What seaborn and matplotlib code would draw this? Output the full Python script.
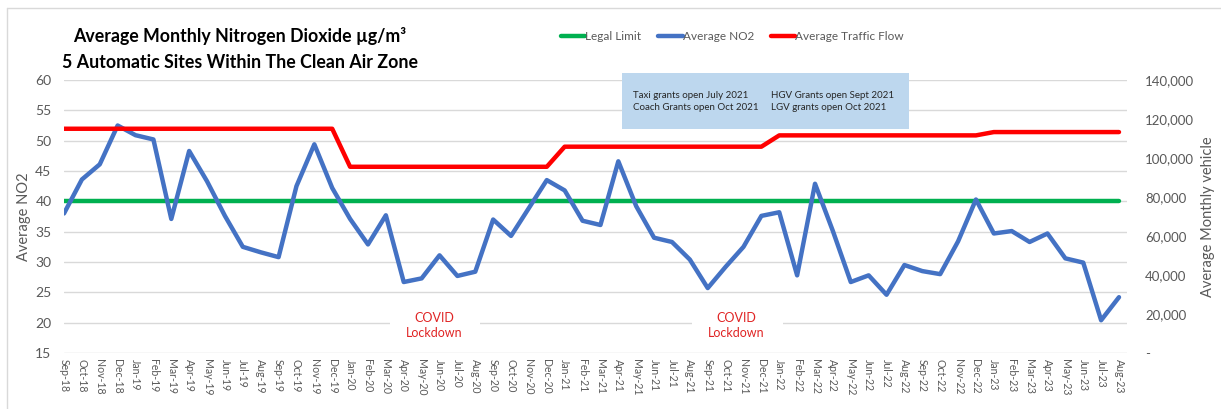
import matplotlib
matplotlib.use("Agg")
import matplotlib.pyplot as plt
from matplotlib.lines import Line2D
from matplotlib.patches import Rectangle
from matplotlib.ticker import FuncFormatter
import seaborn as sns
import pandas as pd

# ---------------- data ----------------
months = list(pd.date_range("2018-09-01", "2023-08-01", freq="MS").strftime("%b-%y"))

no2 = [38.0, 43.6, 46.1, 52.5, 50.9, 50.2, 37.1, 48.3, 43.3, 37.6,
       32.5, 31.6, 30.8, 42.5, 49.4, 42.2, 37.1, 32.9, 37.7, 26.7,
       27.3, 31.1, 27.7, 28.4, 37.0, 34.3, 38.9, 43.5, 41.8, 36.8,
       36.1, 46.6, 39.2, 34.0, 33.3, 30.4, 25.7, 29.2, 32.5, 37.6,
       38.2, 27.8, 42.9, 35.1, 26.7, 27.8, 24.6, 29.5, 28.5, 28.0,
       33.4, 40.3, 34.7, 35.1, 33.3, 34.7, 30.6, 29.9, 20.4, 24.2]

traffic = ([115000] * 16 + [95500] * 12 + [105800] * 12 +
           [111600] * 12 + [113300] * 8)

legal_limit = [40] * len(months)

left_ticks = [15, 20, 25, 30, 35, 40, 45, 50, 55, 60]
right_ticks = [0, 20000, 40000, 60000, 80000, 100000, 120000, 140000]

title_lines = ["Average Monthly Nitrogen Dioxide µg/m³",
               "5 Automatic Sites Within The Clean Air Zone"]
legend_labels = ["Legal Limit", "Average NO2", "Average Traffic Flow"]
grant_notes = [["Taxi grants open July 2021", "Coach Grants open Oct 2021"],
               ["HGV Grants open Sept 2021", "LGV grants open Oct 2021"]]
covid_label = "COVID\nLockdown"
covid_positions = [(20.7, 19.5), (37.6, 19.6)]

# ---------------- style ----------------
sns.set_theme(style="white")
plt.rcParams["font.family"] = ["Lato", "DejaVu Sans"]

GRAY = "#595959"
GRID = "#d9d9d9"
BLUE = "#4472c4"
RED = "#ff0000"
GREEN = "#00b050"

W, H = 1221, 409
fig = plt.figure(figsize=(W / 100, H / 100), dpi=100)
ax = fig.add_axes([64 / W, (H - 353) / H, (1127 - 64) / W, 273 / H])

df = pd.DataFrame({"i": range(len(months)), "no2": no2,
                   "limit": legal_limit, "traffic": traffic})

sns.lineplot(data=df, x="i", y="limit", ax=ax, color=GREEN, linewidth=3.2, zorder=3)
sns.lineplot(data=df, x="i", y="no2", ax=ax, color=BLUE, linewidth=3.2, zorder=4)

ax.set_xlim(0, 59 * 1063 / 1055)
ax.set_ylim(15, 60)
ax.set_yticks(left_ticks)
ax.yaxis.grid(True, color=GRID, linewidth=1)
ax.set_axisbelow(True)
for s in ax.spines.values():
    s.set_visible(False)
ax.set_xticks(range(len(months)))
ax.set_xticklabels(months, rotation=270, fontsize=7.6, color=GRAY)
ax.tick_params(axis="x", length=0, pad=4)
ax.tick_params(axis="y", length=0, pad=9, labelsize=10, labelcolor=GRAY)
ax.set_xlabel("")
ax.set_ylabel("Average NO2", fontsize=10.5, color=GRAY, labelpad=3)

# white boxes behind COVID labels
for x0, x1 in [(18.23, 23.27), (35.12, 40.21)]:
    ax.add_patch(Rectangle((x0, 18.0), x1 - x0, 3.6, facecolor="white",
                           edgecolor="none", zorder=2))
for (cx, cy) in covid_positions:
    ax.text(cx, cy, covid_label, ha="center", va="center", color="#e02424",
            fontsize=9, linespacing=1.3, zorder=5)

ax2 = ax.twinx()
sns.lineplot(data=df, x="i", y="traffic", ax=ax2, color=RED, linewidth=3.2, zorder=5)
ax2.set_ylim(0, 140000)
ax2.set_yticks(right_ticks)
ax2.yaxis.set_major_formatter(FuncFormatter(lambda v, p: "-" if v == 0 else f"{int(v):,}"))
ax2.tick_params(axis="y", length=0, pad=13, labelsize=9.5, labelcolor=GRAY)
ax2.set_ylabel("Average Monthly vehicle", fontsize=10.5, color=GRAY, labelpad=5)
ax2.grid(False)
for s in ax2.spines.values():
    s.set_visible(False)
ax2.set_xlabel("")

# title
fig.text(240 / W, 1 - 36 / H, title_lines[0], ha="center", va="center",
         fontsize=12.8, fontweight="bold", color="black")
fig.text(240 / W, 1 - 63 / H, title_lines[1], ha="center", va="center",
         fontsize=12.8, fontweight="bold", color="black")

# legend
handles = [Line2D([], [], color=c, linewidth=3.2) for c in (GREEN, BLUE, RED)]
fig.legend(handles, legend_labels, loc="center left", bbox_to_anchor=(550 / W, 1 - 37 / H),
           ncol=3, frameon=False, handlelength=2.1, handletextpad=0.0,
           columnspacing=1.4, fontsize=8.5, labelcolor=GRAY)

# grants note box
fig.patches.append(Rectangle((622 / W, 1 - 129 / H), 287 / W, 56 / H,
                             transform=fig.transFigure, facecolor="#bdd7ee",
                             edgecolor="none", zorder=0))
for col, xpx in zip(grant_notes, (633, 771)):
    for line, ypx in zip(col, (95, 108)):
        fig.text(xpx / W, 1 - ypx / H, line, ha="left", va="center",
                 fontsize=7, color="#262626")

# sheet border
fig.add_artist(Line2D([7 / W, 1], [1 - 8 / H, 1 - 8 / H], transform=fig.transFigure,
                      color=GRID, linewidth=1))
fig.add_artist(Line2D([7 / W, 7 / W], [0, 1 - 8 / H], transform=fig.transFigure,
                      color=GRID, linewidth=1))

fig.savefig("out.png", dpi=100)
